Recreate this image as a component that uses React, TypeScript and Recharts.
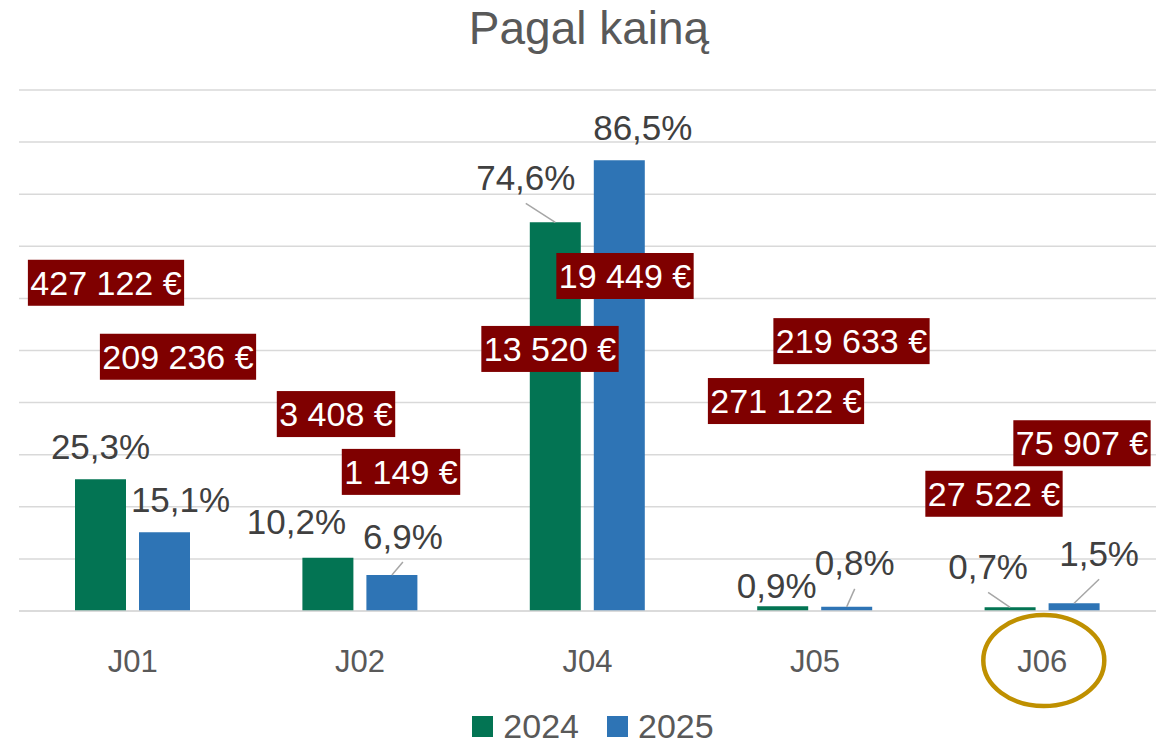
import React from 'react';
import {
  ComposedChart,
  Bar,
  Scatter,
  XAxis,
  YAxis,
  CartesianGrid,
  LabelList,
  Legend,
} from 'recharts';

// ---------- data ----------
const categories = ['J01', 'J02', 'J04', 'J05', 'J06'];
const share2024 = [25.3, 10.2, 74.6, 0.9, 0.7];
const share2025 = [15.1, 6.9, 86.5, 0.8, 1.5];
const amount2024 = [427122, 3408, 13520, 271122, 27522];
const amount2025 = [209236, 1149, 19449, 219633, 75907];
const seriesNames = ['2024', '2025'];
const highlightedCategories = ['J06'];
const yTicks = [0, 10, 20, 30, 40, 50, 60, 70, 80, 90, 100];

// ---------- annotation placement (manually moved labels) ----------
const amountLevel2024 = [63.0, 37.8, 50.3, 40.3, 22.5];
const amountLevel2025 = [48.8, 26.7, 64.3, 51.8, 32.2];
const amountDx2024 = [-26.7, -24.1, -37.5, -28.9, -48.3];
const amountDx2025 = [45.3, 40.9, 37.5, 36.6, 39.7];
const pctOffset2024 = [[0, -33], [-31.5, -36], [-29.5, -45], [-6, -21], [-22, -41]];
const pctOffset2025 = [[16, -33], [11, -39], [23.5, -33], [8, -44], [25, -50]];
const leader2024 = [false, false, true, false, true];
const leader2025 = [false, true, false, true, true];

// ---------- styles ----------
const FONT = '"Liberation Sans", Arial, sans-serif';
const GREEN = '#037453';
const BLUE = '#2E74B5';
const colors = [GREEN, BLUE];
const TEXT = '#595959';
const LABEL_TEXT = '#404040';
const BOX = '#7F0000';

const data = categories.map((cat, i) => ({
  cat,
  y2024: share2024[i],
  y2025: share2025[i],
  a2024: amount2024[i],
  a2025: amount2025[i],
  p2024: amountLevel2024[i],
  p2025: amountLevel2025[i],
}));

const fmtPct = (v: number) => v.toFixed(1).replace('.', ',') + '%';
const fmtEuro = (v: number) =>
  String(Math.round(v)).replace(/\B(?=(\d{3})+(?!\d))/g, ' ') + ' €';

const makePctLabel = (offsets: number[][], leaders: boolean[]) => (props: any) => {
  const { x, y, width, value, index } = props;
  const bx = Number(x) + Number(width) / 2;
  const top = Number(y);
  const [dx, dy] = offsets[index];
  const cx = bx + dx;
  const cy = top + dy;
  return (
    <g>
      {leaders[index] && (
        <line x1={bx} y1={top} x2={cx} y2={cy + 26} stroke="#A6A6A6" strokeWidth={1.5} />
      )}
      <text
        x={cx}
        y={cy + 12.5}
        textAnchor="middle"
        fontSize={35}
        fontFamily={FONT}
        fill={LABEL_TEXT}
      >
        {fmtPct(Number(value))}
      </text>
    </g>
  );
};

const textWidth = (s: string, fs: number) => {
  let w = 0;
  for (const ch of s) {
    if (ch === ' ') w += 0.278 * fs;
    else w += 0.556 * fs;
  }
  return w;
};

const makeEuroBox = (amountKey: string, dxs: number[]) => (props: any) => {
  const { cx, cy, payload } = props;
  if (cx == null || cy == null || !payload) return <g />;
  const i = categories.indexOf(payload.cat);
  const txt = fmtEuro(payload[amountKey]);
  const fs = 34;
  const w = textWidth(txt, fs) + 5;
  const h = 46;
  const x = cx + dxs[i];
  return (
    <g>
      <rect x={x - w / 2} y={cy - h / 2} width={w} height={h} fill={BOX} />
      <text
        x={x}
        y={cy + 12.2}
        textAnchor="middle"
        fontSize={fs}
        fontFamily={FONT}
        fill="#FFFFFF"
      >
        {txt}
      </text>
    </g>
  );
};

const CategoryTick = (props: any) => {
  const { x, y, payload } = props;
  const hl = highlightedCategories.includes(payload.value);
  return (
    <g>
      {hl && (
        <ellipse
          cx={x + 1.5}
          cy={y + 41.5}
          rx={60.5}
          ry={45.5}
          fill="none"
          stroke="#BF9000"
          strokeWidth={4.5}
        />
      )}
      <text x={x} y={y + 53} textAnchor="middle" fontSize={31} fontFamily={FONT} fill={TEXT}>
        {payload.value}
      </text>
    </g>
  );
};

const LegendContent = () => (
  <div
    style={{
      height: 50,
      boxSizing: 'border-box',
      paddingTop: 16,
      paddingLeft: 11,
      display: 'flex',
      justifyContent: 'center',
      alignItems: 'center',
      fontFamily: FONT,
    }}
  >
    {seriesNames.map((n, i) => (
      <div
        key={n}
        style={{ display: 'flex', alignItems: 'center', marginLeft: i === 0 ? 0 : 28, height: 34 }}
      >
        <div style={{ width: 21, height: 21, background: colors[i], marginRight: 10 }} />
        <span style={{ fontSize: 34, lineHeight: '34px', color: TEXT }}>{n}</span>
      </div>
    ))}
  </div>
);

export default function App() {
  return (
    <div
      style={{
        position: 'absolute',
        left: 0,
        top: 0,
        width: 1166,
        height: 743,
        background: '#FFFFFF',
        fontFamily: FONT,
      }}
    >
      <div
        style={{
          position: 'absolute',
          left: 0,
          top: 5,
          width: 1178,
          textAlign: 'center',
          fontSize: 46,
          lineHeight: '46px',
          color: TEXT,
        }}
      >
        Pagal kainą
      </div>
      <ComposedChart
        width={1166}
        height={743}
        data={data}
        margin={{ top: 90, right: 10, bottom: 0, left: 19 }}
        barSize={51}
        barGap={13}
      >
        <CartesianGrid vertical={false} stroke="#D9D9D9" strokeWidth={1.5} />
        <XAxis
          dataKey="cat"
          height={82}
          interval={0}
          tickLine={false}
          axisLine={{ stroke: '#D9D9D9', strokeWidth: 1.5 }}
          tick={<CategoryTick />}
        />
        <YAxis hide domain={[0, 100]} ticks={yTicks} type="number" />
        <Legend verticalAlign="bottom" height={50} content={<LegendContent />} />
        <Bar dataKey="y2024" name="2024" fill={GREEN} isAnimationActive={false}>
          <LabelList dataKey="y2024" content={makePctLabel(pctOffset2024, leader2024)} />
        </Bar>
        <Bar dataKey="y2025" name="2025" fill={BLUE} isAnimationActive={false}>
          <LabelList dataKey="y2025" content={makePctLabel(pctOffset2025, leader2025)} />
        </Bar>
        <Scatter
          dataKey="p2024"
          legendType="none"
          isAnimationActive={false}
          shape={makeEuroBox('a2024', amountDx2024)}
        />
        <Scatter
          dataKey="p2025"
          legendType="none"
          isAnimationActive={false}
          shape={makeEuroBox('a2025', amountDx2025)}
        />
      </ComposedChart>
    </div>
  );
}
